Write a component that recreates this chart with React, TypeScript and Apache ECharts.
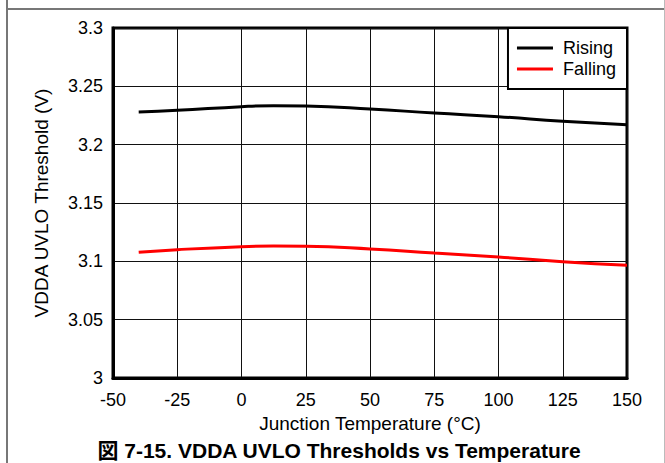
import React, { useEffect, useRef } from "react";
import * as echarts from "echarts";

const temperatures = [-40, -25, 0, 12.5, 25, 50, 75, 100, 125, 150];
const risingValues = [3.228, 3.2294, 3.2326, 3.2334, 3.2331, 3.2306, 3.2271, 3.224, 3.22, 3.2171];
const fallingValues = [3.1077, 3.11, 3.1126, 3.1131, 3.1129, 3.1106, 3.1071, 3.1037, 3.0997, 3.0966];
const seriesNames = ["Rising", "Falling"];
const xTicks = { min: -50, max: 150, interval: 25 };
const yTicks = { min: 3, max: 3.3, interval: 0.05 };
const xTitle = "Junction Temperature (°C)";
const yTitle = "VDDA UVLO Threshold (V)";
const caption = "図 7-15. VDDA UVLO Thresholds vs Temperature";

const FONT = '"Liberation Sans", Arial, "Noto Sans CJK JP", sans-serif';

export default function App() {
  const ref = useRef<HTMLDivElement>(null);
  useEffect(() => {
    if (!ref.current) return;
    const chart = echarts.init(ref.current, undefined, { renderer: "svg" });
    const pairs = (vals: number[]) => temperatures.map((t, i) => [t, vals[i]]);
    chart.setOption({
      animation: false,
      backgroundColor: "#fff",
      textStyle: { fontFamily: FONT },
      grid: {
        left: 113,
        top: 28,
        width: 514,
        height: 350,
        show: true,
        borderColor: "#000",
        borderWidth: 3,
        backgroundColor: "#fff",
      },
      legend: {
        data: seriesNames,
        orient: "vertical",
        right: 38,
        top: 28,
        backgroundColor: "#fff",
        borderColor: "#000",
        borderWidth: 2,
        borderRadius: 0,
        padding: [10, 11, 10, 9],
        itemGap: 1,
        itemWidth: 36,
        itemHeight: 3,
        icon: "rect",
        textStyle: {
          fontSize: 18,
          color: "#000",
          fontFamily: FONT,
          lineHeight: 20,
          padding: [0, 0, 0, 5],
        },
        z: 10,
      },
      xAxis: {
        type: "value",
        min: xTicks.min,
        max: xTicks.max,
        interval: xTicks.interval,
        name: xTitle,
        nameLocation: "middle",
        nameGap: 27,
        nameTextStyle: { fontSize: 19, color: "#000", fontFamily: FONT },
        axisLine: { show: true, onZero: false, lineStyle: { color: "#000", width: 3 } },
        axisTick: { show: false },
        axisLabel: { fontSize: 18, color: "#000", margin: 13, fontFamily: FONT },
        splitLine: { show: true, lineStyle: { color: "#111", width: 1 } },
      },
      yAxis: {
        type: "value",
        min: yTicks.min,
        max: yTicks.max,
        interval: yTicks.interval,
        name: yTitle,
        nameLocation: "middle",
        nameGap: 62,
        nameTextStyle: { fontSize: 19, color: "#000", fontFamily: FONT },
        axisLine: { show: true, onZero: false, lineStyle: { color: "#000", width: 3 } },
        axisTick: { show: false },
        axisLabel: {
          fontSize: 18,
          color: "#000",
          margin: 10,
          fontFamily: FONT,
          formatter: (v: number) => String(parseFloat(v.toFixed(2))),
        },
        splitLine: { show: true, lineStyle: { color: "#111", width: 1 } },
      },
      series: [
        {
          name: seriesNames[0],
          type: "line",
          smooth: true,
          symbol: "none",
          data: pairs(risingValues),
          lineStyle: { color: "#000", width: 3 },
          itemStyle: { color: "#000" },
          z: 5,
        },
        {
          name: seriesNames[1],
          type: "line",
          smooth: true,
          symbol: "none",
          data: pairs(fallingValues),
          lineStyle: { color: "#ff0000", width: 3 },
          itemStyle: { color: "#ff0000" },
          z: 5,
        },
      ],
      graphic: [
        { type: "line", shape: { x1: 7, y1: 0, x2: 7, y2: 463 }, style: { stroke: "#777", lineWidth: 2 } },
        { type: "line", shape: { x1: 7, y1: 9, x2: 665, y2: 9 }, style: { stroke: "#777", lineWidth: 2 } },
        { type: "line", shape: { x1: 664.5, y1: 0, x2: 664.5, y2: 463 }, style: { stroke: "#bbb", lineWidth: 1 } },
        {
          type: "text",
          x: 339,
          y: 450,
          style: {
            text: caption,
            fontSize: 21,
            fontWeight: "bold",
            fontFamily: FONT,
            fill: "#000",
            textAlign: "center",
            textVerticalAlign: "middle",
          },
        },
      ],
    });
    return () => chart.dispose();
  }, []);
  return (
    <div
      ref={ref}
      style={{ position: "fixed", left: 0, top: 0, width: 665, height: 463, background: "#fff" }}
    />
  );
}
